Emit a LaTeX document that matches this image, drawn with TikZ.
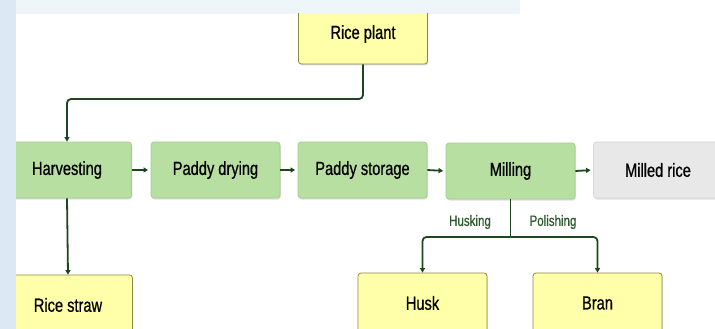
\documentclass[tikz,border=0pt]{standalone}
\usepackage{fontspec}
\setmainfont[FakeStretch=0.77,FakeBold=0.7]{Liberation Sans}
\usetikzlibrary{arrows.meta,shadows}
\definecolor{gfill}{HTML}{B8DFA2}
\definecolor{gdraw}{HTML}{A2CD8C}
\definecolor{yfill}{HTML}{FFFFAA}
\definecolor{ydraw}{HTML}{8A8A40}
\definecolor{mfill}{HTML}{E8E8E8}
\definecolor{mdraw}{HTML}{D6D6D6}
\definecolor{conn}{HTML}{1F461F}
\definecolor{lab}{HTML}{2E5A2E}
\definecolor{bgblue}{HTML}{DCE8F4}
\definecolor{toptint}{HTML}{EEF6FA}
\tikzset{
  box/.style={rectangle, rounded corners=3pt, minimum width=129pt, minimum height=56pt,
    inner sep=0pt, font=\fontsize{19}{22}\selectfont, line width=0.8pt,
    drop shadow={shadow xshift=0.8pt, shadow yshift=-1.5pt, opacity=0.25}},
  greenbox/.style={box, fill=gfill, draw=gdraw},
  yellowbox/.style={box, fill=yfill, draw=ydraw, minimum height=60pt},
  greybox/.style={box, fill=mfill, draw=mdraw},
  link/.style={draw=conn, line width=1.8pt, rounded corners=4pt,
    -{Triangle[length=4.5pt,width=5pt]}},
  flow/.style={link, shorten >=2.5pt},
  steplabel/.style={font=\fontsize{15}{18}\selectfont, text=lab, inner sep=0pt}
}
\begin{document}
\begin{tikzpicture}[x=1pt,y=-1pt]
\useasboundingbox (0,0) rectangle (715,329);
\fill[white] (0,0) rectangle (715,329);
\fill[toptint] (0,0) rectangle (520,14);
\fill[bgblue] (0,0) rectangle (16,329);
\begin{scope}
\clip (16,14) rectangle (715,329);
\fill[white] (16,14) rectangle (715,329);
\node[yellowbox] (plant) at (363,34) {Rice plant};
\node[greenbox] (harv) at (67,170) {Harvesting};
\node[greenbox] (dry) at (215.5,170) {Paddy drying};
\node[greenbox] (store) at (362.5,170) {Paddy storage};
\node[greenbox] (mill) at (510.5,171) {Milling};
\node[greybox] (rice) at (658,170) {Milled rice};
\node[yellowbox] (straw) at (68,305) {Rice straw};
\node[yellowbox] (husk) at (422.5,303) {Husk};
\node[yellowbox] (bran) at (597.5,303) {Bran};
\coordinate (split) at (510.5,237);
\draw[link] (plant.south) -- (plant.south |- 0,99) -- (harv.north |- 0,99) -- (harv.north);
\draw[link] (harv.south) -- (straw.north);
\draw[flow] (harv.east) -- (dry.west);
\draw[flow] (dry.east) -- (store.west);
\draw[flow] (store.east) -- (mill.west);
\draw[flow] (mill.east) -- (rice.west);
\draw[draw=conn, line width=1.8pt] (mill.south) -- (split);
\draw[link] (split) -- (husk.north |- split) -- (husk.north);
\draw[link] (split) -- (bran.north |- split) -- (bran.north);
\node[steplabel] (husking) at (470,222) {Husking};
\node[steplabel] (polishing) at (553,222) {Polishing};
\end{scope}
\end{tikzpicture}
\end{document}
